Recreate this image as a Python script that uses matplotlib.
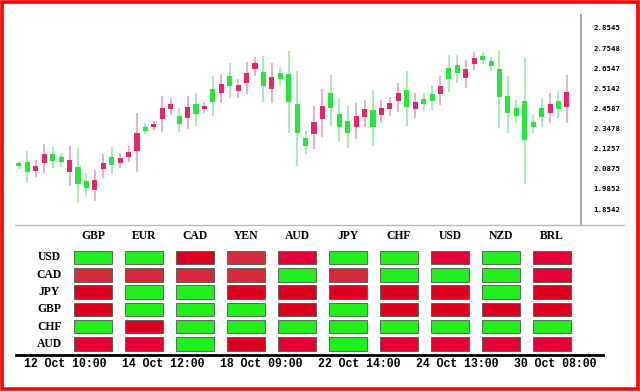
import numpy as np
import matplotlib
matplotlib.use("Agg")
import matplotlib.pyplot as plt
from matplotlib.patches import Rectangle
from matplotlib.lines import Line2D

# candle data
opens = [2.092, 2.059, 2.092, 2.158, 2.119, 2.114, 2.125, 1.992, 1.970, 2.014,
         2.108, 2.097, 2.136, 2.169, 2.274, 2.285, 2.324, 2.412, 2.434, 2.324,
         2.418, 2.379, 2.423, 2.446, 2.545, 2.534, 2.539, 2.606, 2.661, 2.534,
         2.584, 2.573, 2.446, 2.274, 2.202, 2.335, 2.423, 2.412, 2.307, 2.274,
         2.368, 2.407, 2.307, 2.412, 2.440, 2.495, 2.418, 2.446, 2.434, 2.451,
         2.534, 2.573, 2.606, 2.628, 2.689, 2.678, 2.645, 2.473, 2.385, 2.368,
         2.236, 2.307, 2.363, 2.434, 2.407, 2.501]
closes = [2.108, 2.114, 2.064, 2.108, 2.158, 2.142, 2.059, 2.086, 2.009, 1.959,
          2.075, 2.142, 2.108, 2.142, 2.175, 2.307, 2.307, 2.352, 2.407, 2.368,
          2.357, 2.434, 2.407, 2.517, 2.495, 2.589, 2.506, 2.551, 2.628, 2.611,
          2.517, 2.606, 2.600, 2.434, 2.247, 2.269, 2.352, 2.495, 2.379, 2.341,
          2.307, 2.363, 2.401, 2.374, 2.407, 2.451, 2.512, 2.407, 2.462, 2.490,
          2.490, 2.633, 2.650, 2.578, 2.656, 2.700, 2.672, 2.628, 2.479, 2.412,
          2.451, 2.335, 2.412, 2.385, 2.451, 2.418]
highs = [2.119, 2.175, 2.125, 2.213, 2.197, 2.164, 2.202, 2.191, 2.053, 2.070,
         2.158, 2.197, 2.164, 2.202, 2.385, 2.329, 2.341, 2.479, 2.468, 2.412,
         2.479, 2.495, 2.446, 2.589, 2.600, 2.661, 2.573, 2.667, 2.694, 2.700,
         2.661, 2.639, 2.727, 2.617, 2.285, 2.423, 2.517, 2.595, 2.468, 2.423,
         2.440, 2.457, 2.512, 2.457, 2.473, 2.551, 2.617, 2.495, 2.495, 2.539,
         2.589, 2.705, 2.705, 2.678, 2.722, 2.722, 2.694, 2.727, 2.589, 2.457,
         2.694, 2.374, 2.468, 2.495, 2.506, 2.595]
lows = [2.075, 1.998, 2.031, 2.053, 2.081, 2.086, 1.981, 1.887, 1.926, 1.898,
        2.026, 2.048, 2.081, 2.114, 2.059, 2.269, 2.291, 2.280, 2.374, 2.280,
        2.296, 2.313, 2.385, 2.368, 2.440, 2.468, 2.468, 2.490, 2.589, 2.446,
        2.440, 2.534, 2.274, 2.092, 2.158, 2.186, 2.252, 2.313, 2.224, 2.191,
        2.241, 2.307, 2.202, 2.329, 2.368, 2.390, 2.313, 2.357, 2.401, 2.401,
        2.429, 2.501, 2.551, 2.523, 2.622, 2.656, 2.617, 2.302, 2.274, 2.329,
        1.992, 2.274, 2.307, 2.329, 2.357, 2.329]

price_labels = ["2.8545", "2.7548", "2.6547", "2.5142", "2.4587",
                "2.3478", "2.1257", "2.0875", "1.9852", "1.8542"]

# strength table
row_names = ["USD", "CAD", "JPY", "GBP", "CHF", "AUD"]
col_names = ["GBP", "EUR", "CAD", "YEN", "AUD", "JPY", "CHF", "USD", "NZD", "BRL"]
grid = [
    "GGRDCGGCGC",
    "DDDDGDGGGC",
    "RGGRRRRRGR",
    "RGGGRGRRRR",
    "GRGGGGGGGG",
    "CCGRCGCCCC",
]
dates = ["12 Oct 10:00", "14 Oct 12:00", "18 Oct 09:00",
         "22 Oct 14:00", "24 Oct 13:00", "30 Oct 08:00"]

cell_colors = {"G": "#22ee1e", "R": "#dc0020", "D": "#d42a3c", "C": "#e60038"}

W, H = 640, 392
fig = plt.figure(figsize=(6.4, 3.92), dpi=100)


def box(x0, y0, x1, y1):
    # pixel box (top-left origin) -> figure fraction rect
    return [x0 / W, 1 - y1 / H, (x1 - x0) / W, (y1 - y0) / H]


# candle chart
ax = fig.add_axes(box(15, 15, 581, 225))
x = np.arange(len(opens))
o = np.array(opens)
c = np.array(closes)
up = c >= o
body_col = np.where(up, "#22e83a", "#e8246a")
wick_col = np.where(up, "#8fe8a0", "#e49ab6")
ax.vlines(x, lows, highs, colors=wick_col, linewidth=1.1, zorder=1)
ax.bar(x, np.abs(c - o), bottom=np.minimum(o, c), width=0.6,
       color=body_col, zorder=2)
ax.set_xlim(-0.47, 66.67)
ax.set_ylim(1.7658, 2.9263)
for s in ["left", "top", "bottom"]:
    ax.spines[s].set_visible(False)
ax.spines["right"].set_color("#a8a8a8")
ax.spines["right"].set_linewidth(1.5)
ax.set_xticks([])
ax.yaxis.tick_right()
ax.set_yticks(np.linspace(2.8545, 1.8542, 10))
ax.set_yticklabels(price_labels, fontsize=5.3, fontweight="bold",
                   family="DejaVu Sans Mono")
ax.tick_params(axis="y", length=0, pad=9)

fig.add_artist(Line2D([15 / W, 624 / W], [1 - 225 / H, 1 - 225 / H],
                      color="#b8b8b8", linewidth=1))

# strength table
hx = fig.add_axes(box(16, 228, 603, 355))
hx.set_xlim(-1.513, 10.0)
hx.set_ylim(5.642, -1.705)
for i, row in enumerate(grid):
    for j, code in enumerate(row):
        hx.add_patch(Rectangle((j - 0.373, i - 0.39), 0.746, 0.78,
                               facecolor=cell_colors[code],
                               edgecolor="#4a5a4a", linewidth=0.6))
for j, name in enumerate(col_names):
    hx.text(j, -1.243, name, ha="center", va="center", fontsize=8.4,
            fontweight="bold", family="Liberation Serif")
for i, name in enumerate(row_names):
    hx.text(-0.864, i, name, ha="center", va="center", fontsize=8.4,
            fontweight="bold", family="Liberation Serif")
for s in ["left", "top", "right"]:
    hx.spines[s].set_visible(False)
hx.spines["bottom"].set_linewidth(2)
hx.set_yticks([])
hx.set_xticks(np.linspace(-0.55, 9.06, len(dates)))
hx.set_xticklabels(dates, fontsize=8.3, fontweight="bold", family="Liberation Mono")
hx.tick_params(axis="x", length=0, pad=2)

# red frame
fig.add_artist(Rectangle((2 / W, 1 - 389 / H), 635.5 / W, 387.5 / H,
                         transform=fig.transFigure, fill=False,
                         edgecolor="#ff0000", linewidth=2.6))

fig.savefig("out.png", dpi=100)
